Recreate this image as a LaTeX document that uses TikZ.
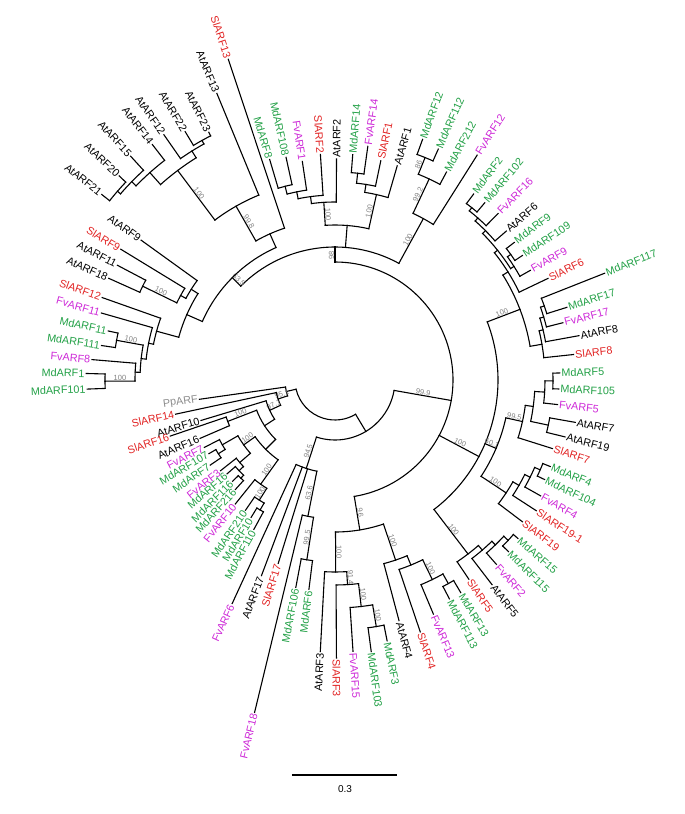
\documentclass[tikz,border=0pt]{standalone}
\usepackage{fontspec}
\setmainfont{Liberation Sans}

\definecolor{mdgreen}{RGB}{34,160,70}
\definecolor{fvmag}{RGB}{205,40,215}
\definecolor{slred}{RGB}{225,35,35}
\definecolor{ppgray}{RGB}{140,140,140}

\newcounter{bootno}
% arc of a clade: from angle #1 to #2 at radius #3
\newcommand{\treearc}[3]{\draw[branch] (#1:#3pt) arc[start angle=#1,end angle=#2,radius=#3pt];}
% radial stem at angle #1 from radius #2 to #3
\newcommand{\treestem}[3]{\draw[branch] (#1:#2pt) -- (#1:#3pt);}
% leaf: name, angle, base radius, tip radius, style, text
\newcommand{\treeleaf}[6]{%
  \draw[branch] (#2:#3pt) -- (#2:#4pt) coordinate (#1-tip);
  \pgfmathtruncatemacro{\leafside}{cos(#2)<0}%
  \ifnum\leafside=1
    \node[leaflab,#5,anchor=east,rotate=#2+180] (#1) at (#1-tip) {#6};%
  \else
    \node[leaflab,#5,anchor=west,rotate=#2] (#1) at (#1-tip) {#6};%
  \fi}
% bootstrap value along a stem
\newcommand{\treeboot}[3]{%
  \stepcounter{bootno}%
  \pgfmathtruncatemacro{\bootside}{cos(#1)<0}%
  \ifnum\bootside=1
    \node[bootlab,anchor=south,rotate=#1+180] (bs\arabic{bootno}) at (#1:#2pt) {#3};%
  \else
    \node[bootlab,anchor=south,rotate=#1] (bs\arabic{bootno}) at (#1:#2pt) {#3};%
  \fi}

\begin{document}
\begin{tikzpicture}[x=1pt,y=1pt,
  branch/.style={line width=1.1pt,line cap=rect},
  leaflab/.style={font=\fontsize{10.8}{12}\selectfont,inner sep=1.5pt},
  bootlab/.style={font=\fontsize{7.5}{8}\selectfont,text=black!50,inner sep=0.6pt},
  atlab/.style={text=black},
  mdlab/.style={text=mdgreen},
  fvlab/.style={text=fvmag},
  sllab/.style={text=slred},
  pplab/.style={text=ppgray}
]
\useasboundingbox (-335,-434) rectangle (350,380);

% root
\treearc{193.3}{301}{40}
\treestem{301}{40}{60}
\treearc{252}{350}{60}

% lower left clade
\treestem{193.3}{40}{50}
\treearc{188.1}{198.5}{50}
\treeleaf{PpARF}{188.1}{50}{137}{pplab}{PpARF}
\treestem{198.5}{50}{60} \treeboot{198.5}{55}{95.1}
\treearc{192.1}{204.9}{60}
\treeleaf{SlARF14}{192.1}{60}{163}{sllab}{SlARF14}
\treestem{204.9}{60}{72} \treeboot{204.9}{66}{97.1}
\treearc{196.8}{213}{72}
\treeleaf{AtARF10}{196.8}{72}{140}{atlab}{AtARF10}
\treestem{213}{72}{84}
\treearc{201.1}{225}{84}
\treestem{201.1}{84}{115} \treeboot{201.1}{100}{100}
\treearc{198.8}{203.4}{115}
\treeleaf{SlARF16}{198.8}{115}{174}{sllab}{SlARF16}
\treeleaf{AtARF16}{203.4}{115}{147}{atlab}{AtARF16}
\treestem{225}{84}{98}
\treearc{215.4}{234.5}{98}
\treestem{215.4}{98}{112} \treeboot{215.4}{105}{100}
\treearc{209.9}{220.9}{112}
\treestem{209.9}{112}{130}
\treearc{207.3}{212.3}{130}
\treeleaf{FvARF7}{207.3}{130}{147}{fvlab}{FvARF7}
\treestem{212.3}{130}{138}
\treearc{210.3}{214.3}{138}
\treeleaf{MdARF107}{210.3}{138}{146}{mdlab}{MdARF107}
\treeleaf{MdARF7}{214.3}{138}{151}{mdlab}{MdARF7}
\treestem{220.9}{112}{126}
\treearc{218.4}{223.4}{126}
\treeleaf{FvARF3}{218.4}{126}{146}{fvlab}{FvARF3}
\treestem{223.4}{126}{132}
\treearc{221}{226.2}{132}
\treeleaf{MdARF16}{221}{132}{143}{mdlab}{MdARF16}
\treestem{226.2}{132}{136}
\treearc{224.7}{227.7}{136}
\treeleaf{MdARF116}{224.7}{136}{144}{mdlab}{MdARF116}
\treeleaf{MdARF216}{227.7}{136}{148}{mdlab}{MdARF216}
\treestem{234.5}{98}{128} \treeboot{234.5}{113}{100}
\treearc{231.2}{237.8}{128}
\treeleaf{FvARF10}{231.2}{128}{159}{fvlab}{FvARF10}
\treestem{237.8}{128}{142} \treeboot{237.8}{135}{100}
\treearc{235.5}{240.05}{142}
\treeleaf{MdARF210}{235.5}{142}{158}{mdlab}{MdARF210}
\treestem{240.05}{142}{150}
\treearc{238.6}{241.5}{150}
\treeleaf{MdARF10}{238.6}{150}{161}{mdlab}{MdARF10}
\treeleaf{MdARF110}{241.5}{150}{170}{mdlab}{MdARF110}

% bottom clade
\treestem{252}{60}{93} \treeboot{252}{76}{94.5}
\treearc{245.3}{258.75}{93}
\treeleaf{FvARF6}{245.3}{93}{246}{fvlab}{FvARF6}
\treeleaf{AtARF17}{249.4}{93}{209}{atlab}{AtARF17}
\treeleaf{SlARF17}{252.8}{93}{192}{sllab}{SlARF17}
\treestem{258.75}{93}{139} \treeboot{258.75}{116}{63.6}
\treearc{256.4}{261.1}{139}
\treeleaf{FvARF18}{256.4}{139}{342}{fvlab}{FvARF18}
\treestem{261.1}{139}{182} \treeboot{261.1}{160}{99.5}
\treearc{259.3}{262.9}{182}
\treeleaf{MdARF106}{259.3}{182}{211}{mdlab}{MdARF106}
\treeleaf{MdARF6}{262.9}{182}{211}{mdlab}{MdARF6}

% main clade
\treestem{350}{60}{118} \treeboot{350}{89}{99.9}
\treearc{279.4}{450}{118}

% ARF3/ARF4 group
\treestem{279.4}{118}{152} \treeboot{279.4}{135}{96}
\treearc{270.2}{288.6}{152}
\treestem{270.2}{152}{192} \treeboot{270.2}{172}{100}
\treearc{266.9}{273.5}{192}
\treeleaf{AtARF3}{266.9}{192}{272}{atlab}{AtARF3}
\treestem{273.5}{192}{205} \treeboot{273.5}{198}{91.4}
\treearc{270.3}{276.6}{205}
\treeleaf{SlARF3}{270.3}{205}{278}{sllab}{SlARF3}
\treestem{276.6}{205}{228} \treeboot{276.6}{216}{100}
\treearc{273.8}{279.5}{228}
\treeleaf{FvARF15}{273.8}{228}{272}{fvlab}{FvARF15}
\treestem{279.5}{228}{250} \treeboot{279.5}{239}{100}
\treearc{277.6}{281.3}{250}
\treeleaf{MdARF103}{277.6}{250}{274}{mdlab}{MdARF103}
\treeleaf{MdARF3}{281.3}{250}{266}{mdlab}{MdARF3}
\treestem{288.6}{152}{190} \treeboot{288.6}{171}{100}
\treearc{284.9}{292.3}{190}
\treeleaf{AtARF4}{284.9}{190}{249}{atlab}{AtARF4}
\treestem{292.3}{190}{200}
\treearc{288.7}{296}{200}
\treeleaf{SlARF4}{288.7}{200}{266}{sllab}{SlARF4}
\treestem{296}{200}{222} \treeboot{296}{211}{100}
\treearc{292.8}{299.1}{222}
\treeleaf{FvARF13}{292.8}{222}{254}{fvlab}{FvARF13}
\treestem{299.1}{222}{233}
\treearc{297.6}{300.6}{233}
\treeleaf{MdARF113}{297.6}{233}{247}{mdlab}{MdARF113}
\treeleaf{MdARF13}{300.6}{233}{247}{mdlab}{MdARF13}

% ARF5 ... ARF8 groups
\treestem{332}{118}{163} \treeboot{332}{140}{100}
\treearc{307.4}{380.9}{163}
\treestem{307.4}{163}{219} \treeboot{307.4}{191}{100}
\treearc{303.9}{310.9}{219}
\treeleaf{SlARF5}{303.9}{219}{240}{sllab}{SlARF5}
\treestem{310.9}{219}{225}
\treearc{307.5}{314.2}{225}
\treeleaf{AtARF5}{307.5}{225}{258}{atlab}{AtARF5}
\treestem{314.2}{225}{230}
\treearc{311.2}{317.2}{230}
\treeleaf{FvARF2}{311.2}{230}{245}{fvlab}{FvARF2}
\treestem{317.2}{230}{236}
\treearc{315.3}{319.1}{236}
\treeleaf{MdARF115}{315.3}{236}{244}{mdlab}{MdARF115}
\treeleaf{MdARF15}{319.1}{236}{242}{mdlab}{MdARF15}

\treestem{337}{163}{175} \treeboot{337}{169}{60.1}
\treearc{326.6}{347.5}{175}
\treestem{326.6}{175}{205} \treeboot{326.6}{190}{100}
\treearc{322.9}{330.2}{205}
\treeleaf{SlARF19}{322.9}{205}{235}{sllab}{SlARF19}
\treestem{330.2}{205}{212}
\treearc{327}{333.5}{212}
\treeleaf{SlARF19a}{327}{212}{240}{sllab}{SlARF19-1}
\treestem{333.5}{212}{218}
\treearc{330.6}{336.35}{218}
\treeleaf{FvARF4}{330.6}{218}{236}{fvlab}{FvARF4}
\treestem{336.35}{218}{224}
\treearc{334.6}{338.1}{224}
\treeleaf{MdARF104}{334.6}{224}{232}{mdlab}{MdARF104}
\treeleaf{MdARF4}{338.1}{224}{232}{mdlab}{MdARF4}
\treestem{347.5}{175}{192} \treeboot{347.5}{183}{99.5}
\treearc{342.5}{352.4}{192}
\treeleaf{SlARF7}{342.5}{192}{228}{sllab}{SlARF7}
\treestem{352.4}{192}{200}
\treearc{348.05}{356.7}{200}
\treestem{348.05}{200}{218}
\treearc{346.1}{350}{218}
\treeleaf{AtARF19}{346.1}{218}{237}{atlab}{AtARF19}
\treeleaf{AtARF7}{350}{218}{244}{atlab}{AtARF7}
\treestem{356.7}{200}{210}
\treearc{353.7}{359.75}{210}
\treeleaf{FvARF5}{353.7}{210}{224}{fvlab}{FvARF5}
\treestem{359.75}{210}{218}
\treearc{357.7}{361.8}{218}
\treeleaf{MdARF105}{357.7}{218}{224}{mdlab}{MdARF105}
\treeleaf{MdARF5}{1.8}{218}{225}{mdlab}{MdARF5}

\treestem{20.9}{163}{198} \treeboot{20.9}{180}{100}
\treearc{9.8}{32}{198}
\treestem{9.8}{198}{210}
\treearc{6.1}{13.55}{210}
\treeleaf{SlARF8}{6.1}{210}{240}{sllab}{SlARF8}
\treestem{13.55}{210}{214}
\treearc{10.3}{16.8}{214}
\treeleaf{AtARF8}{10.3}{214}{248}{atlab}{AtARF8}
\treestem{16.8}{214}{218}
\treearc{14.1}{19.5}{218}
\treeleaf{FvARF17}{14.1}{218}{235}{fvlab}{FvARF17}
\treestem{19.5}{218}{222}
\treearc{17.4}{21.6}{222}
\treeleaf{MdARF17}{17.4}{222}{243}{mdlab}{MdARF17}
\treeleaf{MdARF117}{21.6}{222}{290}{mdlab}{MdARF117}
\treestem{32}{198}{204}
\treearc{25.5}{38.6}{204}
\treeleaf{SlARF6}{25.5}{204}{236}{sllab}{SlARF6}
\treestem{38.6}{204}{208}
\treearc{32.4}{44.8}{208}
\treestem{32.4}{208}{212}
\treearc{29.3}{35.55}{212}
\treeleaf{FvARF9}{29.3}{212}{224}{fvlab}{FvARF9}
\treestem{35.55}{212}{216}
\treearc{33.6}{37.5}{216}
\treeleaf{MdARF109}{33.6}{216}{225}{mdlab}{MdARF109}
\treeleaf{MdARF9}{37.5}{216}{226}{mdlab}{MdARF9}
\treestem{44.8}{208}{212}
\treearc{41}{48.6}{212}
\treeleaf{AtARF6}{41}{212}{227}{atlab}{AtARF6}
\treestem{48.6}{212}{216}
\treearc{45.6}{51.55}{216}
\treeleaf{FvARF16}{45.6}{216}{233}{fvlab}{FvARF16}
\treestem{51.55}{216}{220}
\treearc{49.8}{53.3}{220}
\treeleaf{MdARF102}{49.8}{220}{232}{mdlab}{MdARF102}
\treeleaf{MdARF2}{53.3}{220}{232}{mdlab}{MdARF2}

% upper clade
\treestem{90}{118}{133} \treeboot{90}{125}{98}
\treearc{61.3}{135.1}{133}
\treestem{61.3}{133}{184} \treeboot{61.3}{158}{100}
\treearc{57.7}{64.9}{184}
\treeleaf{FvARF12}{57.7}{184}{266}{fvlab}{FvARF12}
\treestem{64.9}{184}{222} \treeboot{64.9}{203}{99.2}
\treearc{61.8}{67.95}{222}
\treeleaf{MdARF212}{61.8}{222}{236}{mdlab}{MdARF212}
\treestem{67.95}{222}{240} \treeboot{67.95}{231}{86}
\treearc{65.9}{70}{240}
\treeleaf{MdARF112}{65.9}{240}{253}{mdlab}{MdARF112}
\treeleaf{MdARF12}{70}{240}{256}{mdlab}{MdARF12}

\treestem{85.5}{133}{155}
\treearc{77.4}{93.6}{155}
\treestem{77.4}{155}{190} \treeboot{77.4}{172}{100}
\treearc{73.8}{81}{190}
\treeleaf{AtARF1}{73.8}{190}{223}{atlab}{AtARF1}
\treestem{81}{190}{198}
\treearc{78.2}{83.75}{198}
\treeleaf{SlARF1}{78.2}{198}{224}{sllab}{SlARF1}
\treestem{83.75}{198}{208}
\treearc{82}{85.5}{208}
\treeleaf{FvARF14}{82}{208}{236}{fvlab}{FvARF14}
\treeleaf{MdARF14}{85.5}{208}{226}{mdlab}{MdARF14}
\treestem{93.6}{155}{178} \treeboot{93.6}{166}{100}
\treearc{89.6}{97.6}{178}
\treeleaf{AtARF2}{89.6}{178}{221}{atlab}{AtARF2}
\treestem{97.6}{178}{185}
\treearc{93.7}{101.5}{185}
\treeleaf{SlARF2}{93.7}{185}{226}{sllab}{SlARF2}
\treestem{101.5}{185}{192}
\treearc{98.5}{104.45}{192}
\treeleaf{FvARF1}{98.5}{192}{221}{fvlab}{FvARF1}
\treestem{104.45}{192}{200}
\treearc{102.4}{106.5}{200}
\treeleaf{MdARF108}{102.4}{200}{228}{mdlab}{MdARF108}
\treeleaf{MdARF8}{106.5}{200}{230}{mdlab}{MdARF8}

% upper left clade
\treestem{135.1}{133}{145} \treeboot{135.1}{139}{63.5}
\treearc{114}{156.2}{145}
\treestem{114}{145}{160}
\treearc{108.4}{119.65}{160}
\treeleaf{SlARF13}{108.4}{160}{338}{sllab}{SlARF13}
\treestem{119.65}{160}{200} \treeboot{119.65}{180}{99.8}
\treearc{112.4}{126.9}{200}
\treeleaf{AtARF13}{112.4}{200}{310}{atlab}{AtARF13}
\treestem{126.9}{200}{262} \treeboot{126.9}{231}{100}
\treearc{122}{131.75}{262}
\treestem{122}{262}{270}
\treearc{119.05}{124.9}{270}
\treestem{119.05}{270}{274}
\treearc{117}{121.1}{274}
\treeleaf{AtARF23}{117}{274}{278}{atlab}{AtARF23}
\treeleaf{AtARF22}{121.1}{274}{290}{atlab}{AtARF22}
\treeleaf{AtARF12}{124.9}{270}{299}{atlab}{AtARF12}
\treestem{131.75}{262}{278}
\treearc{127.8}{135.7}{278}
\treeleaf{AtARF14}{127.8}{278}{298}{atlab}{AtARF14}
\treestem{135.7}{278}{284}
\treearc{132.4}{139.05}{284}
\treeleaf{AtARF15}{132.4}{284}{303}{atlab}{AtARF15}
\treestem{139.05}{284}{288}
\treearc{136.6}{141.5}{288}
\treeleaf{AtARF20}{136.6}{288}{297}{atlab}{AtARF20}
\treeleaf{AtARF21}{141.5}{288}{298}{atlab}{AtARF21}

\treestem{156.2}{145}{162}
\treearc{147.75}{164.7}{162}
\treestem{147.75}{162}{170}
\treearc{144.2}{151.3}{170}
\treeleaf{AtARF9}{144.2}{170}{239}{atlab}{AtARF9}
\treestem{151.3}{170}{176}
\treearc{148.6}{154}{176}
\treeleaf{SlARF9}{148.6}{176}{251}{sllab}{SlARF9}
\treestem{154}{176}{214} \treeboot{154}{195}{100}
\treearc{152.2}{155.8}{214}
\treeleaf{AtARF11}{152.2}{214}{246}{atlab}{AtARF11}
\treeleaf{AtARF18}{155.8}{214}{248}{atlab}{AtARF18}
\treestem{164.7}{162}{185}
\treearc{160.5}{168.85}{185}
\treeleaf{SlARF12}{160.5}{185}{247}{sllab}{SlARF12}
\treestem{168.85}{185}{190}
\treearc{164}{173.7}{190}
\treeleaf{FvARF11}{164}{190}{243}{fvlab}{FvARF11}
\treestem{173.7}{190}{195}
\treearc{169.7}{177.75}{195}
\treestem{169.7}{195}{222} \treeboot{169.7}{208}{100}
\treearc{167.8}{171.6}{222}
\treeleaf{MdARF11}{167.8}{222}{232}{mdlab}{MdARF11}
\treeleaf{MdARF111}{171.6}{222}{236}{mdlab}{MdARF111}
\treestem{177.75}{195}{200}
\treearc{175.2}{180.3}{200}
\treeleaf{FvARF8}{175.2}{200}{244}{fvlab}{FvARF8}
\treestem{180.3}{200}{230} \treeboot{180.3}{215}{100}
\treearc{178.5}{182.1}{230}
\treeleaf{MdARF1}{178.5}{230}{249}{mdlab}{MdARF1}
\treeleaf{MdARF101}{182.1}{230}{248}{mdlab}{MdARF101}

% scale bar
\draw[line width=1.8pt] (-43,-395) coordinate (bar-l) -- (62,-395) coordinate (bar-r);
\node[font=\fontsize{10}{12}\selectfont] (barlab) at (10,-409) {0.3};
\end{tikzpicture}
\end{document}
